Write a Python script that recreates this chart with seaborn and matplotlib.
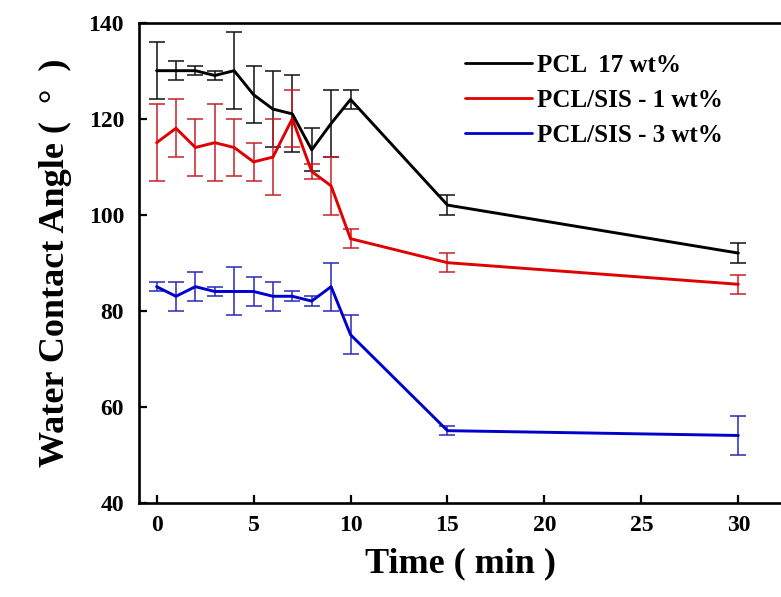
import matplotlib
matplotlib.use("Agg")
import matplotlib.pyplot as plt
from matplotlib.lines import Line2D
import seaborn as sns
import pandas as pd

# Contact angle measurements (mean and standard deviation) over immersion time
time_min = [0, 1, 2, 3, 4, 5, 6, 7, 8, 9, 10, 15, 30]
pcl17 = [130, 130, 130, 129, 130, 125, 122, 121, 113.5, 119, 124, 102, 92]
pcl17_sd = [6, 2, 1, 1, 8, 6, 8, 8, 4.5, 7, 2, 2, 2]
sis1 = [115, 118, 114, 115, 114, 111, 112, 120, 109, 106, 95, 90, 85.5]
sis1_sd = [8, 6, 6, 8, 6, 4, 8, 6, 1.5, 6, 2, 2, 2]
sis3 = [85, 83, 85, 84, 84, 84, 83, 83, 82, 85, 75, 55, 54]
sis3_sd = [1, 3, 3, 1, 5, 3, 3, 1, 1, 5, 4, 1, 4]

series_names = ["PCL  17 wt%", "PCL/SIS - 1 wt%", "PCL/SIS - 3 wt%"]
line_colors = ["#000000", "#e00000", "#0000cc"]
bar_colors = ["#111111", "#c8202a", "#2a2ab8"]

sns.set_theme(style="ticks")
plt.rcParams["font.family"] = ["Liberation Serif", "DejaVu Serif"]
plt.rcParams["font.weight"] = "bold"
plt.rcParams["text.color"] = "black"
plt.rcParams["axes.labelcolor"] = "black"
plt.rcParams["xtick.color"] = "black"
plt.rcParams["ytick.color"] = "black"

frames = []
for name, vals, sds in zip(series_names, [pcl17, sis1, sis3], [pcl17_sd, sis1_sd, sis3_sd]):
    frames.append(pd.DataFrame({"time": time_min, "angle": vals, "sd": sds, "series": name}))
df = pd.concat(frames, ignore_index=True)

fig = plt.figure(figsize=(7.81, 5.97), dpi=100)
ax = fig.add_axes([0.1784, 0.158, 0.8216, 0.804])

palette = dict(zip(series_names, line_colors))
# error bars first so the mean lines sit on top
for name, bc in zip(series_names, bar_colors):
    sub = df[df["series"] == name]
    ax.errorbar(sub["time"], sub["angle"], yerr=sub["sd"], fmt="none",
                ecolor=bc, elinewidth=1.1, capsize=6, capthick=1.1, zorder=2)

sns.lineplot(data=df, x="time", y="angle", hue="series", hue_order=series_names[::-1],
             palette=palette, linewidth=2.1, ax=ax, legend=False, zorder=3)

ax.set_xlim(-0.89, 32.2)
ax.set_ylim(40, 140)
ax.set_xticks(range(0, 31, 5))
ax.set_yticks(range(40, 141, 20))

for side in ["left", "bottom", "top"]:
    ax.spines[side].set_linewidth(1.9)
    ax.spines[side].set_color("black")
ax.spines["right"].set_visible(False)

ax.tick_params(axis="both", direction="in", length=6, width=1.6, colors="black",
               labelcolor="black", labelsize=17, top=False, right=False)
ax.tick_params(axis="y", pad=11)
ax.tick_params(axis="x", pad=9)
for lab in ax.get_xticklabels() + ax.get_yticklabels():
    lab.set_fontweight("bold")
    lab.set_color("black")

ax.set_xlabel("Time ( min )", fontsize=26, fontweight="bold", labelpad=8, color="black")
ax.set_ylabel("Water Contact Angle (  °  )", fontsize=26, fontweight="bold",
              labelpad=12, color="black")

handles = [Line2D([], [], color=c, linewidth=2.0) for c in line_colors]
leg = ax.legend(handles, series_names, loc="upper left", bbox_to_anchor=(0.507, 0.935),
                frameon=False, fontsize=18, handlelength=2.7, handletextpad=0.2,
                labelspacing=0.48, borderaxespad=0, borderpad=0)
for t in leg.get_texts():
    t.set_fontweight("bold")
    t.set_color("black")

fig.savefig("out.png", dpi=100)
